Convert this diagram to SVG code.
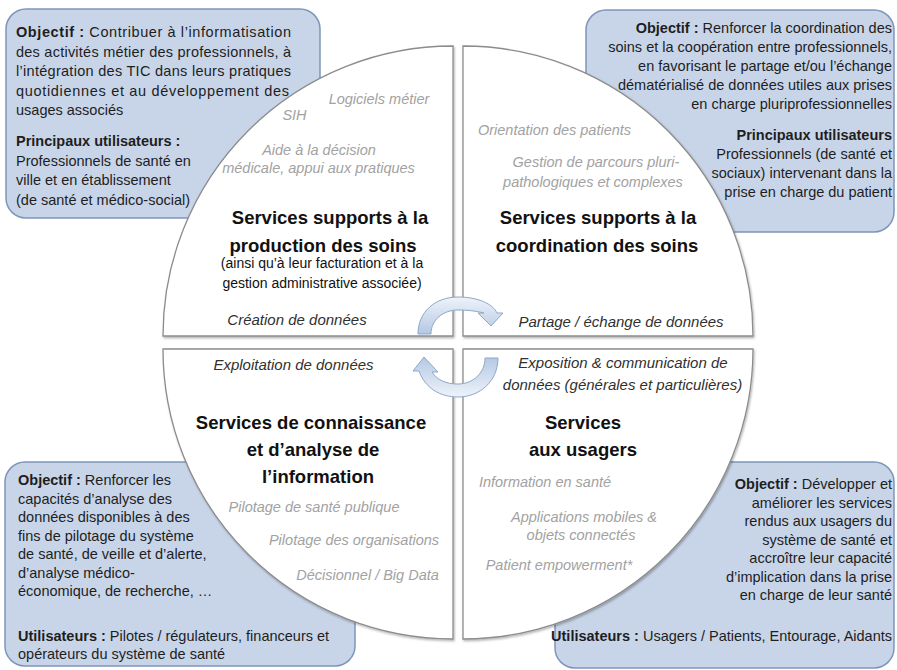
<svg xmlns="http://www.w3.org/2000/svg" width="897" height="670" viewBox="0 0 897 670">
<defs>
<filter id="sh" x="-5%" y="-5%" width="110%" height="110%"><feDropShadow dx="1" dy="1.5" stdDeviation="1.2" flood-color="#000" flood-opacity="0.3"/></filter>
<linearGradient id="ag" x1="0" y1="0" x2="0" y2="1"><stop offset="0" stop-color="#eef3fa"/><stop offset="1" stop-color="#b4c8e3"/></linearGradient>
<linearGradient id="ag2" x1="0" y1="1" x2="0" y2="0"><stop offset="0" stop-color="#eef3fa"/><stop offset="1" stop-color="#b4c8e3"/></linearGradient>
<style>
.box{fill:#c8d5e9;stroke:#7e95bb;stroke-width:1.5}
.q{fill:#fff;stroke:#8c8c8c;stroke-width:1.3;filter:url(#sh)}
text{font-family:"Liberation Sans",Arial,sans-serif}
.bt{font-size:14.5px;fill:#1e1e1e}
.r{text-anchor:end}
.b{font-weight:bold}
.it{font-size:14.5px;font-style:italic;fill:#a2a2a2;text-anchor:middle}
.dt{font-size:15px;font-style:italic;fill:#303030;text-anchor:middle}
.ti{font-size:18.5px;font-weight:bold;fill:#111;text-anchor:middle}
.st{font-size:14px;fill:#111;text-anchor:middle}
.arr{fill:url(#ag);stroke:#8fa7c8;stroke-width:1}
</style>
</defs>

<g id="box-tl">
<rect class="box" x="6" y="9" width="314" height="209" rx="20"/>
<text class="bt" x="16" y="37" textLength="275"><tspan class="b">Objectif :</tspan> Contribuer à l’informatisation</text>
<text class="bt" x="16" y="56.5" textLength="275">des activités métier des professionnels, à</text>
<text class="bt" x="16" y="76" textLength="275">l’intégration des TIC dans leurs pratiques</text>
<text class="bt" x="16" y="95.5" textLength="273">quotidiennes et au développement des</text>
<text class="bt" x="16" y="115">usages associés</text>
<text class="bt b" x="16" y="146">Principaux utilisateurs :</text>
<text class="bt" x="16" y="165.5">Professionnels de santé en</text>
<text class="bt" x="16" y="185">ville et en établissement</text>
<text class="bt" x="16" y="204.5">(de santé et médico-social)</text>
</g>

<g id="box-tr">
<rect class="box" x="586" y="10" width="308" height="222" rx="20"/>
<text class="bt r" x="892" y="32.5"><tspan class="b">Objectif :</tspan> Renforcer la coordination des</text>
<text class="bt r" x="892" y="51.5">soins et la coopération entre professionnels,</text>
<text class="bt r" x="892" y="70.5">en favorisant le partage et/ou l’échange</text>
<text class="bt r" x="892" y="89.5">dématérialisé de données utiles aux prises</text>
<text class="bt r" x="892" y="108.5">en charge pluriprofessionnelles</text>
<text class="bt r b" x="892" y="140">Principaux utilisateurs</text>
<text class="bt r" x="892" y="159">Professionnels (de santé et</text>
<text class="bt r" x="892" y="178">sociaux) intervenant dans la</text>
<text class="bt r" x="892" y="197">prise en charge du patient</text>
</g>

<g id="box-bl">
<rect class="box" x="5" y="462" width="350" height="204" rx="20"/>
<text class="bt" x="18" y="485"><tspan class="b">Objectif :</tspan> Renforcer les</text>
<text class="bt" x="18" y="503.5">capacités d’analyse des</text>
<text class="bt" x="18" y="522">données disponibles à des</text>
<text class="bt" x="18" y="540.5">fins de pilotage du système</text>
<text class="bt" x="18" y="559">de santé, de veille et d’alerte,</text>
<text class="bt" x="18" y="577.5">d’analyse médico-</text>
<text class="bt" x="18" y="596">économique, de recherche, …</text>
<text class="bt" x="18" y="641"><tspan class="b">Utilisateurs :</tspan> Pilotes / régulateurs, financeurs et</text>
<text class="bt" x="18" y="659">opérateurs du système de santé</text>
</g>

<g id="box-br">
<rect class="box" x="555" y="462" width="339" height="206" rx="20"/>
<text class="bt r" x="892" y="489"><tspan class="b">Objectif :</tspan> Développer et</text>
<text class="bt r" x="892" y="507.5">améliorer les services</text>
<text class="bt r" x="892" y="526">rendus aux usagers du</text>
<text class="bt r" x="892" y="544.5">système de santé et</text>
<text class="bt r" x="892" y="563">accroître leur capacité</text>
<text class="bt r" x="892" y="581.5">d’implication dans la prise</text>
<text class="bt r" x="892" y="600">en charge de leur santé</text>
<text class="bt r" x="892" y="641"><tspan class="b">Utilisateurs :</tspan> Usagers / Patients, Entourage, Aidants</text>
</g>

<g id="quad-tl">
<path class="q" d="M453,336 L163,336 A290,290 0 0 1 453,46 Z"/>
<text class="it" x="379" y="104">Logiciels métier</text>
<text class="it" x="294.5" y="120">SIH</text>
<text class="it" x="319" y="155">Aide à la décision</text>
<text class="it" x="318.5" y="173">médicale, appui aux pratiques</text>
<text class="ti" x="330" y="224">Services supports à la</text>
<text class="ti" x="323" y="251.5">production des soins</text>
<text class="st" x="322" y="268">(ainsi qu’à leur facturation et à la</text>
<text class="st" x="322" y="287.5">gestion administrative associée)</text>
<text class="dt" x="297" y="325">Création de données</text>
</g>

<g id="quad-tr">
<path class="q" d="M463,336 L463,46 A290,290 0 0 1 753,336 Z"/>
<text class="it" x="554.5" y="135">Orientation des patients</text>
<text class="it" x="596" y="167">Gestion de parcours pluri-</text>
<text class="it" x="593" y="187">pathologiques et complexes</text>
<text class="ti" x="598" y="224">Services supports à la</text>
<text class="ti" x="597" y="251.5">coordination des soins</text>
<text class="dt" x="621" y="327">Partage / échange de données</text>
</g>

<g id="quad-bl">
<path class="q" d="M453,349 L453,639 A290,290 0 0 1 163,349 Z"/>
<text class="dt" x="293.5" y="370">Exploitation de données</text>
<text class="ti" x="311" y="429">Services de connaissance</text>
<text class="ti" x="313" y="456">et d’analyse de</text>
<text class="ti" x="318" y="483">l’information</text>
<text class="it" x="314" y="512">Pilotage de santé publique</text>
<text class="it" x="354" y="545">Pilotage des organisations</text>
<text class="it" x="367.5" y="580">Décisionnel / Big Data</text>
</g>

<g id="quad-br">
<path class="q" d="M463,349 L753,349 A290,290 0 0 1 463,639 Z"/>
<text class="dt" x="623" y="368">Exposition &amp; communication de</text>
<text class="dt" x="622.5" y="390">données (générales et particulières)</text>
<text class="ti" x="583" y="429">Services</text>
<text class="ti" x="583" y="456">aux usagers</text>
<text class="it" x="545" y="487">Information en santé</text>
<text class="it" x="584" y="522">Applications mobiles &amp;</text>
<text class="it" x="581" y="540">objets connectés</text>
<text class="it" x="559" y="570">Patient empowerment*</text>
</g>

<g id="connectors">
<path class="arr" d="M418,334 C418,312 435,297 458,297 C478,297 493,304 497,313 L503,313 L491,326 L478,313 L484,313 C480,312 471,310 458,310 C443,310 431,320 431,334 Z"/>
<path class="arr" style="fill:url(#ag2)" d="M498,358 C498,381 480,397 458,397 C440,397 425,388 419,371 L413,371 L424,357 L438,372 L432,372 C437,380 446,384 458,384 C473,384 485,373 485,358 Z"/>
</g>
</svg>
